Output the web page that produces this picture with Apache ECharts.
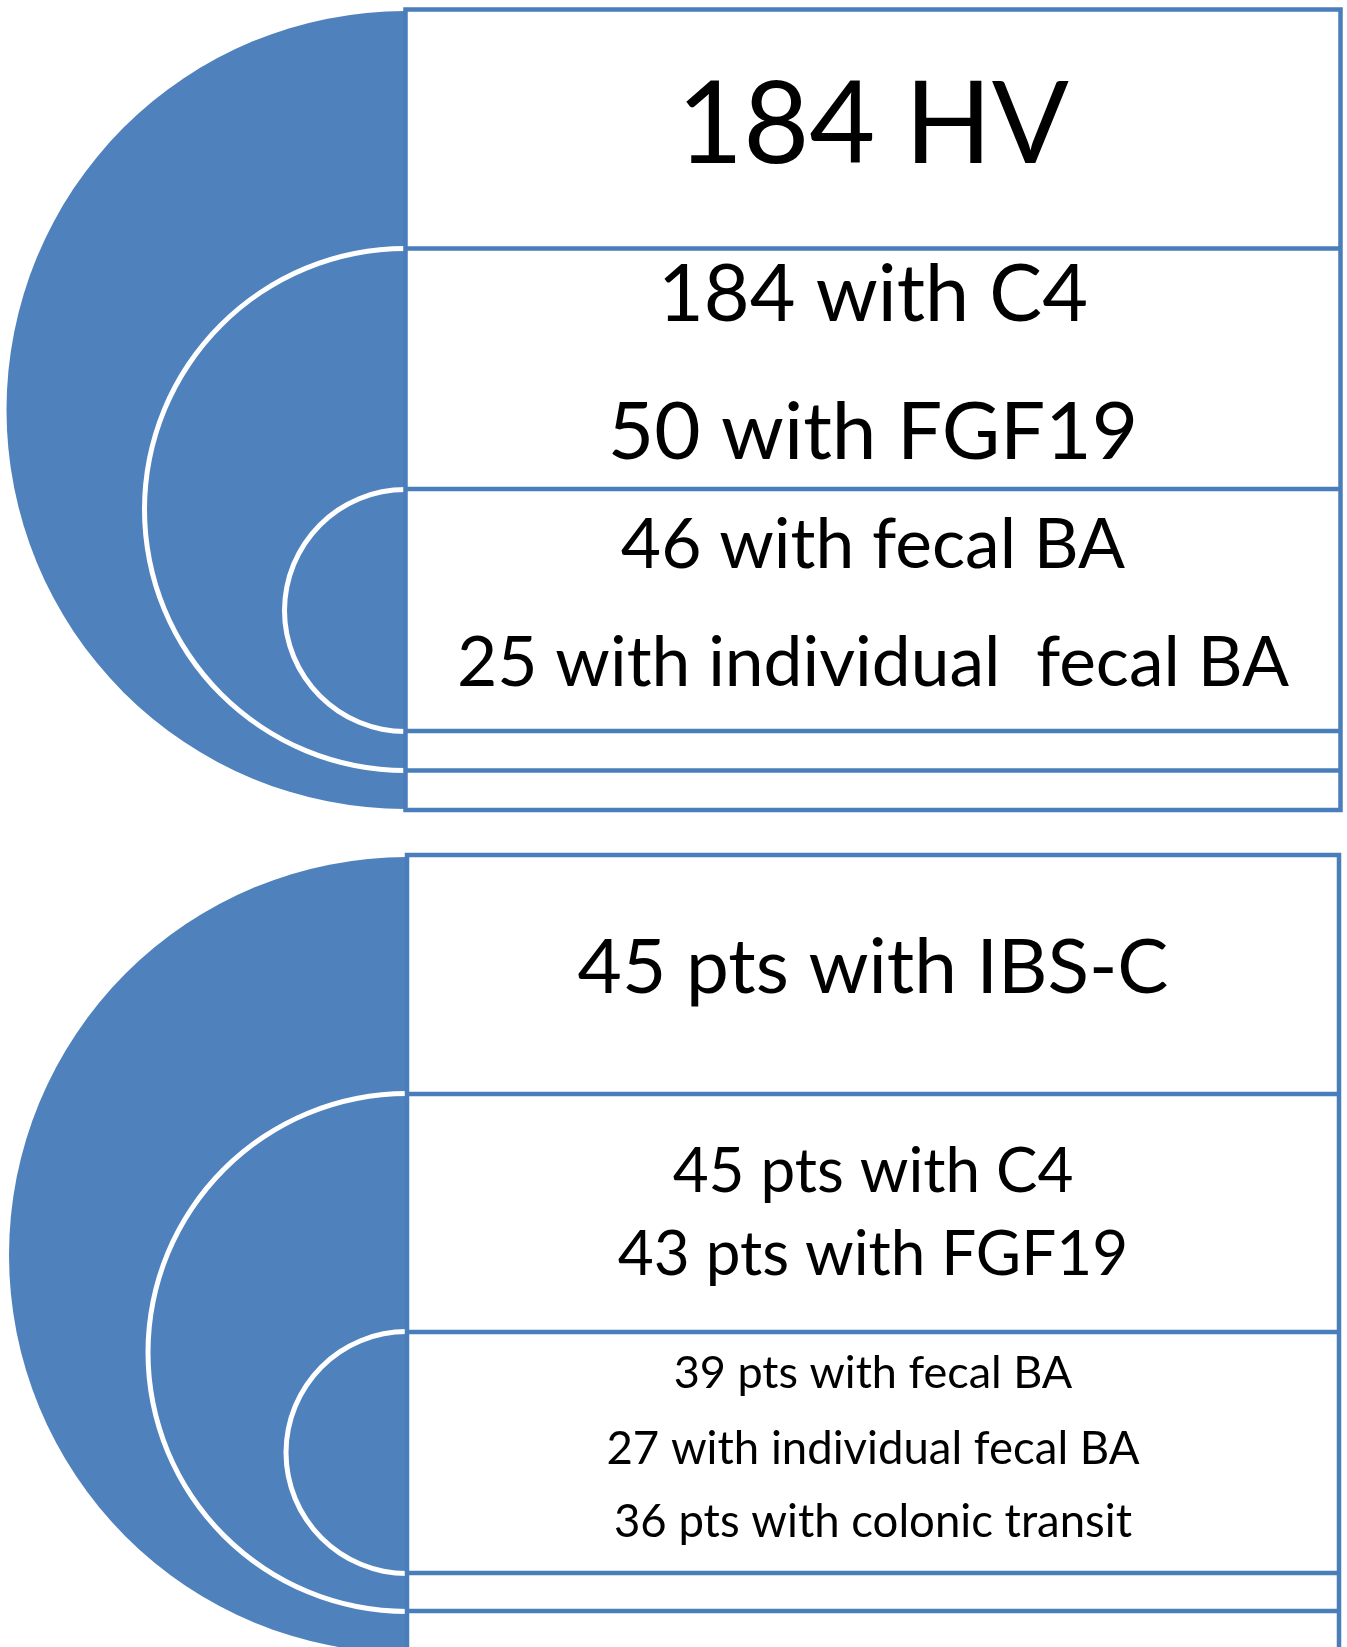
<!DOCTYPE html>
<html>
<head>
<meta charset="utf-8">
<script src="https://cdn.jsdelivr.net/npm/echarts@6/dist/echarts.min.js"></script>
<style>
  html, body { margin: 0; padding: 0; background: #ffffff; }
  #chart { width: 1347px; height: 1647px; }
</style>
</head>
<body>
<div id="chart"></div>
<script>
// Healthy volunteers (HV): numbers of participants with each measurement
const hvCounts = [184, 184, 50, 46, 25];
const hvTexts = ['HV', 'with C4', 'with FGF19', 'with fecal BA', 'with individual  fecal BA'];

// IBS-C patients: numbers of participants with each measurement
const ibsCounts = [45, 45, 43, 39, 27, 36];
const ibsTexts = ['pts with IBS-C', 'pts with C4', 'pts with FGF19', 'pts with fecal BA',
                  'with individual fecal BA', 'pts with colonic transit'];

// Nested tiers: whole cohort, serum markers, stool / transit studies
const tierNames = ['cohort', 'serum', 'stool'];

const FILL = '#4f81bd';
const EDGE = '#4a7ebb';
const FONT = 'Lato, "Open Sans", "Noto Sans", sans-serif';

// Geometry of the two panels (pixels)
const panels = [
  {
    counts: hvCounts, texts: hvTexts,
    left: 405.5, right: 1340.5, top: 9.5, bottom: 810,
    rings: [{ cy: 410, r: 399 }, { cy: 509.5, r: 261 }, { cy: 610.5, r: 121 }],
    rows: [248.5, 489, 731, 770.5],
    textY: [126, 296, 433, 546, 664],
    textSize: [114, 79, 80, 69.5, 69.5]
  },
  {
    counts: ibsCounts, texts: ibsTexts,
    left: 407, right: 1339, top: 855, bottom: 1655,
    rings: [{ cy: 1255, r: 398 }, { cy: 1352.5, r: 259 }, { cy: 1452.5, r: 121 }],
    rows: [1094, 1332, 1573, 1611],
    textY: [968, 1172, 1255, 1373, 1449, 1522],
    textSize: [76.5, 62, 62, 45, 45.5, 45.5]
  }
];

// A left-facing half of a pie: first slice drawn, second slice transparent
function halfPie(name, cx, cy, rIn, rOut, color, z) {
  return {
    type: 'pie',
    name: name,
    silent: true,
    animation: false,
    z: z,
    center: [cx, cy],
    radius: [rIn, rOut],
    startAngle: 90,
    clockwise: false,
    avoidLabelOverlap: false,
    label: { show: false },
    labelLine: { show: false },
    emphasis: { disabled: true },
    itemStyle: { borderWidth: 0 },
    data: [
      { value: 1, name: name, itemStyle: { color: color } },
      { value: 1, name: name + '-rest', itemStyle: { color: 'rgba(0,0,0,0)' } }
    ]
  };
}

const series = [];
const graphics = [];

panels.forEach(function (p, pi) {
  // outer filled half disc
  const o = p.rings[0];
  series.push(halfPie(tierNames[0] + pi, p.left, o.cy, 0, o.r, FILL, 2));
  // inner tiers outlined in white
  for (let k = 1; k < p.rings.length; k++) {
    const g = p.rings[k];
    series.push(halfPie(tierNames[k] + pi, p.left, g.cy, g.r - 2.5, g.r + 2.5, '#ffffff', 3 + k));
  }

  // frame and row dividers
  graphics.push({
    type: 'rect', z: 100, silent: true,
    shape: { x: p.left, y: p.top, width: p.right - p.left, height: p.bottom - p.top },
    style: { fill: 'none', stroke: EDGE, lineWidth: 4.5 }
  });
  p.rows.forEach(function (y) {
    graphics.push({
      type: 'line', z: 100, silent: true,
      shape: { x1: p.left, y1: y, x2: p.right, y2: y },
      style: { stroke: EDGE, lineWidth: 4.5 }
    });
  });

  // text lines
  const cxText = (p.left + p.right) / 2;
  p.counts.forEach(function (n, i) {
    graphics.push({
      type: 'text', z: 101, silent: true,
      x: cxText, y: p.textY[i],
      style: {
        text: n + ' ' + p.texts[i],
        font: 'normal ' + p.textSize[i] + 'px ' + FONT,
        fill: '#000000',
        align: 'center', verticalAlign: 'middle',
        textAlign: 'center', textVerticalAlign: 'middle'
      }
    });
  });
});

const chart = echarts.init(document.getElementById('chart'), null, { renderer: 'canvas' });
chart.setOption({
  backgroundColor: '#ffffff',
  animation: false,
  series: series,
  graphic: { elements: graphics }
});
</script>
</body>
</html>
